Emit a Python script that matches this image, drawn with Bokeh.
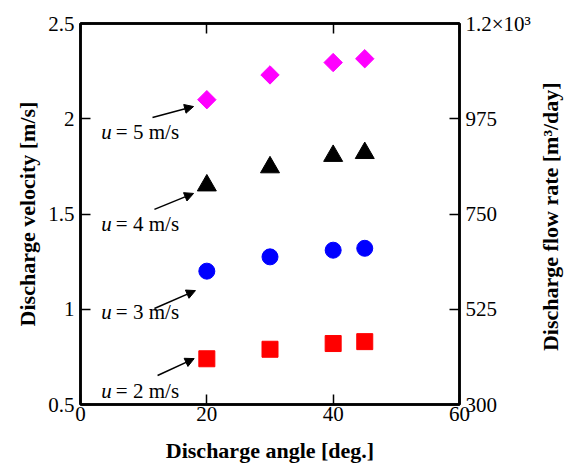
import math
from bokeh.plotting import figure
from bokeh.layouts import row
from bokeh.models import (Range1d, LinearAxis, FixedTicker, Arrow, NormalHead, Label)
from bokeh.embed import file_html
from bokeh.resources import INLINE

# data
angles = [20, 30, 40, 45]
v_u2 = [0.74, 0.79, 0.82, 0.83]
v_u3 = [1.20, 1.275, 1.31, 1.32]
v_u4 = [1.65, 1.745, 1.805, 1.82]
v_u5 = [2.10, 2.23, 2.295, 2.315]
x_ticks = [0, 20, 40, 60]
y_ticks = [0.5, 1, 1.5, 2, 2.5]
q_ticks = [300, 525, 750, 975, 1200]
speed_labels = ["2", "3", "4", "5"]

FONT = "Liberation Serif"
TICK_FS = "21px"
TITLE_FS = "22px"

fig = figure(width=537, height=468, output_backend="svg", toolbar_location=None,
             x_range=Range1d(0, 60), y_range=Range1d(0.5, 2.5),
             min_border_left=80, min_border_right=78, min_border_top=23, min_border_bottom=64,
             background_fill_color="white", border_fill_color="white")
fig.grid.visible = False
fig.outline_line_color = "black"
fig.outline_line_width = 2.5

fig.extra_y_ranges = {"q": Range1d(300, 1200)}

def style_axis(ax, show_labels=True):
    ax.axis_line_color = "black"
    ax.axis_line_width = 2.5
    ax.major_tick_in = 10
    ax.major_tick_out = 0
    ax.major_tick_line_width = 1.5
    ax.minor_tick_line_color = None
    ax.major_label_text_font = FONT
    ax.major_label_text_font_size = TICK_FS
    ax.major_label_text_color = "black" if show_labels else None
    ax.axis_label_text_font = FONT
    ax.axis_label_text_font_style = "bold"
    ax.axis_label_text_font_size = TITLE_FS
    ax.axis_label_text_color = "black"

xa = fig.xaxis[0]
style_axis(xa)
xa.ticker = FixedTicker(ticks=x_ticks)
xa.axis_label = "Discharge angle [deg.]"
xa.major_label_standoff = 2
xa.axis_label_standoff = 14

ya = fig.yaxis[0]
style_axis(ya)
ya.ticker = FixedTicker(ticks=y_ticks)
ya.axis_label = "Discharge velocity [m/s]"
ya.major_label_standoff = 6
ya.axis_label_standoff = 5

top = LinearAxis(ticker=FixedTicker(ticks=x_ticks))
style_axis(top, show_labels=False)
fig.add_layout(top, "above")

right = LinearAxis(y_range_name="q", ticker=FixedTicker(ticks=q_ticks))
style_axis(right)
right.major_label_overrides = {1200: "1.2×10³"}
right.major_label_standoff = 6
fig.add_layout(right, "right")

fig.scatter(angles, v_u5, marker="square", size=13, angle=math.pi / 4,
            fill_color="#FF00FF", line_color="#FF00FF")
fig.scatter(angles, v_u4, marker="triangle", size=19, fill_color="black", line_color="black")
fig.scatter(angles, v_u3, marker="circle", size=16, fill_color="#0000FF", line_color="#0000FF")
fig.scatter(angles, v_u2, marker="square", size=16, fill_color="#FF0000", line_color="#FF0000")

# annotations: arrows and labels
arrow_start = [(12.2, 0.652), (11.7, 1.004), (11.7, 1.524), (11.4, 2.007)]
arrow_end = [(18.0, 0.741), (18.2, 1.098), (17.9, 1.608), (17.9, 2.064)]
label_y = [0.573, 0.983, 1.450, 1.928]
for (x0, y0), (x1, y1), ly, s in zip(arrow_start, arrow_end, label_y, speed_labels):
    fig.add_layout(Arrow(x_start=x0, y_start=y0, x_end=x1, y_end=y1, line_width=1.5,
                         line_color="black",
                         end=NormalHead(size=9, fill_color="black", line_color="black")))
    fig.add_layout(Label(x=3.3, y=ly, text="u", text_font=FONT, text_font_style="italic",
                         text_font_size="21px", text_baseline="middle", text_color="black"))
    fig.add_layout(Label(x=5.6, y=ly, text="= " + s + " m/s", text_font=FONT,
                         text_font_size="21px", text_baseline="middle", text_color="black"))

# narrow strip holding the right-hand axis title, reading bottom to top
strip = figure(width=30, height=468, output_backend="svg", toolbar_location=None,
               x_range=Range1d(0, 1), y_range=Range1d(0, 1),
               min_border=0, outline_line_color=None,
               background_fill_color="white", border_fill_color="white")
strip.axis.visible = False
strip.grid.visible = False
strip.add_layout(Label(x=0.43, y=0.493, text="Discharge flow rate [m³/day]", text_font=FONT,
                       text_font_style="bold", text_font_size=TITLE_FS, angle=math.pi / 2,
                       text_align="center", text_baseline="middle", text_color="black"))

p = row(fig, strip, spacing=0)

open("out.html", "w").write(file_html(p, INLINE))
